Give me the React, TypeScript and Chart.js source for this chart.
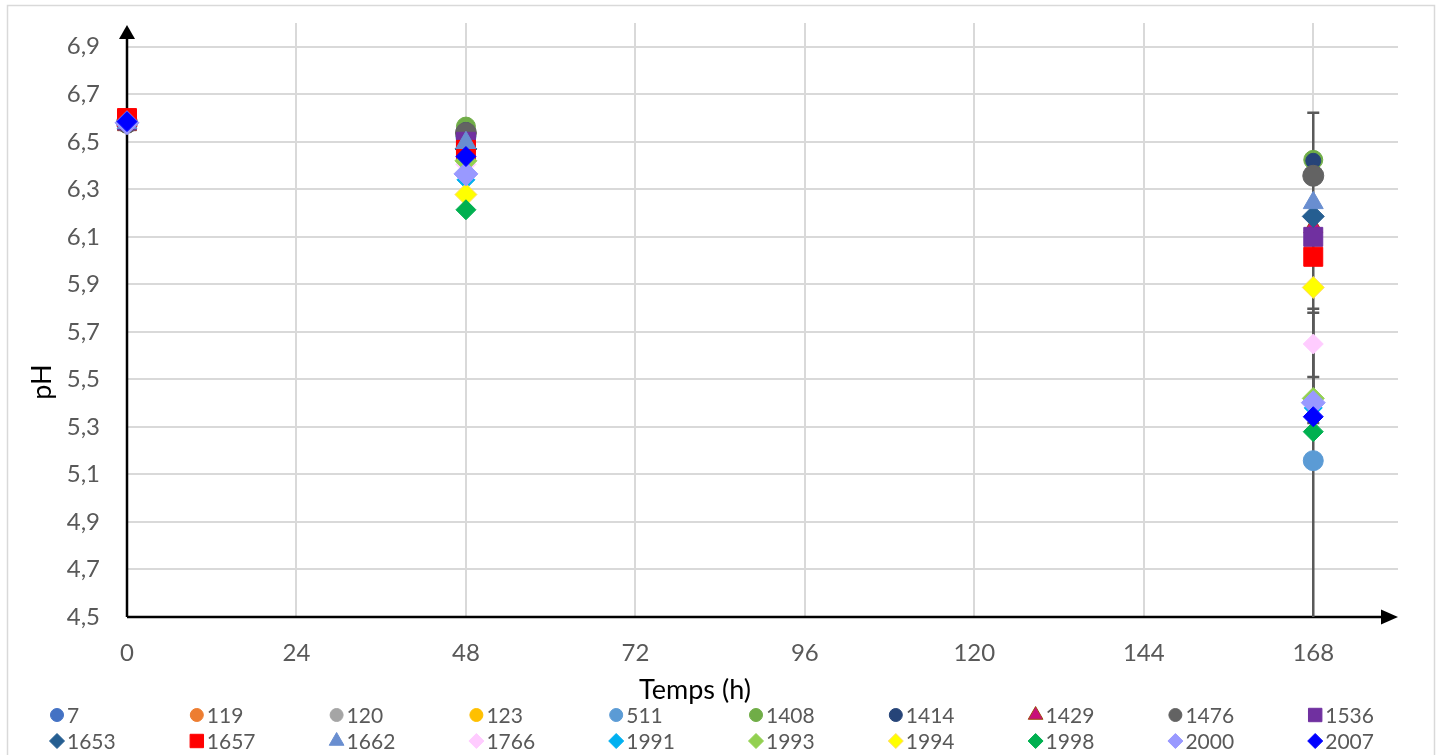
import React, { useEffect, useRef } from 'react';
import { Chart, registerables } from 'chart.js';
import { drawPoint } from 'chart.js/helpers';

Chart.register(...registerables);

// Sampling times (h) and axis ticks
const times = [0, 48, 168];
const xTicks = [0, 24, 48, 72, 96, 120, 144, 168];
const yTicks = [4.5, 4.7, 4.9, 5.1, 5.3, 5.5, 5.7, 5.9, 6.1, 6.3, 6.5, 6.7, 6.9];

// pH per strain at 0 h, 48 h and 168 h
const ph7 = [6.58, 6.54, 6.36];
const ph119 = [6.58, 6.54, 6.36];
const ph120 = [6.58, 6.54, 6.36];
const ph123 = [6.58, 6.54, 6.36];
const ph511 = [6.58, 6.52, 5.158];
const ph1408 = [6.58, 6.564, 6.424];
const ph1414 = [6.58, 6.55, 6.42];
const ph1429 = [6.57, 6.48, 6.14];
const ph1476 = [6.58, 6.537, 6.357];
const ph1536 = [6.59, 6.5, 6.1];
const ph1653 = [6.58, 6.47, 6.186];
const ph1657 = [6.6, 6.466, 6.016];
const ph1662 = [6.58, 6.496, 6.243];
const ph1766 = [6.58, 6.405, 5.649];
const ph1991 = [6.58, 6.34, 5.38];
const ph1993 = [6.58, 6.42, 5.42];
const ph1994 = [6.58, 6.278, 5.887];
const ph1998 = [6.58, 6.214, 5.28];
const ph2000 = [6.58, 6.365, 5.402];
const ph2007 = [6.585, 6.438, 5.343];

const strains = ['7', '119', '120', '123', '511', '1408', '1414', '1429', '1476', '1536',
  '1653', '1657', '1662', '1766', '1991', '1993', '1994', '1998', '2000', '2007'];
const phSeries = [ph7, ph119, ph120, ph123, ph511, ph1408, ph1414, ph1429, ph1476, ph1536,
  ph1653, ph1657, ph1662, ph1766, ph1991, ph1993, ph1994, ph1998, ph2000, ph2007];

// Error bars at 168 h (strain, plus, minus)
const errStrains = ['511', '1998', '2007', '2000'];
const errPlus = [1.464, 0.517, 0.437, 0.108];
const errMinus = [1.464, 0, 0, 0.085];

// Marker look per strain
type Mark = { shape: string; fill: string; stroke: string; r: number };
const marks: Mark[] = [
  { shape: 'circle', fill: '#4472C4', stroke: '#4472C4', r: 8 },
  { shape: 'circle', fill: '#ED7D31', stroke: '#ED7D31', r: 8 },
  { shape: 'circle', fill: '#A5A5A5', stroke: '#A5A5A5', r: 8 },
  { shape: 'circle', fill: '#FFC000', stroke: '#FFC000', r: 8 },
  { shape: 'circle', fill: '#5B9BD5', stroke: '#5B9BD5', r: 10 },
  { shape: 'circle', fill: '#70AD47', stroke: '#70AD47', r: 9.5 },
  { shape: 'circle', fill: '#264478', stroke: '#264478', r: 7.5 },
  { shape: 'triangle', fill: '#C8107A', stroke: '#9E480E', r: 11 },
  { shape: 'circle', fill: '#636363', stroke: '#636363', r: 10.5 },
  { shape: 'rect', fill: '#7030A0', stroke: '#7030A0', r: 13.4 },
  { shape: 'rectRot', fill: '#255E91', stroke: '#255E91', r: 11 },
  { shape: 'rect', fill: '#FF0000', stroke: '#FF0000', r: 13.4 },
  { shape: 'triangle', fill: '#698ED0', stroke: '#698ED0', r: 11.5 },
  { shape: 'rectRot', fill: '#FFCCFF', stroke: '#FFCCFF', r: 10 },
  { shape: 'rectRot', fill: '#00B0F0', stroke: '#00B0F0', r: 9 },
  { shape: 'rectRot', fill: '#92D050', stroke: '#92D050', r: 11 },
  { shape: 'rectRot', fill: '#FFFF00', stroke: '#FFD966', r: 11 },
  { shape: 'rectRot', fill: '#00B050', stroke: '#00B050', r: 10 },
  { shape: 'rectRot', fill: '#9999FF', stroke: '#9999FF', r: 12 },
  { shape: 'rectRot', fill: '#0000FF', stroke: '#0000FF', r: 10 },
];

const FONT = 'Lato, "Open Sans", sans-serif';
const TICK_COLOR = '#595959';
const GRID_COLOR = '#d9d9d9';

const framePlugin = {
  id: 'frame',
  beforeDraw(chart: any) {
    const ctx = chart.ctx;
    ctx.save();
    ctx.strokeStyle = GRID_COLOR;
    ctx.lineWidth = 1.5;
    ctx.strokeRect(7.5, 5.5, chart.width - 10, chart.height + 20);
    ctx.restore();
  },
};

// Black axis lines with arrow heads, plus error bars behind the markers
const axesPlugin = {
  id: 'axesArrows',
  beforeDatasetsDraw(chart: any) {
    const { ctx, chartArea: a, scales } = chart;
    ctx.save();
    ctx.strokeStyle = '#000';
    ctx.fillStyle = '#000';
    ctx.lineWidth = 2.5;
    ctx.beginPath();
    ctx.moveTo(a.left, a.bottom);
    ctx.lineTo(a.left, a.top + 14);
    ctx.moveTo(a.left, a.bottom);
    ctx.lineTo(a.right - 14, a.bottom);
    ctx.stroke();
    ctx.beginPath();
    ctx.moveTo(a.left, a.top + 2);
    ctx.lineTo(a.left - 8, a.top + 16);
    ctx.lineTo(a.left + 8, a.top + 16);
    ctx.closePath();
    ctx.fill();
    ctx.beginPath();
    ctx.moveTo(a.right, a.bottom);
    ctx.lineTo(a.right - 17, a.bottom - 7.5);
    ctx.lineTo(a.right - 17, a.bottom + 7.5);
    ctx.closePath();
    ctx.fill();

    // error bars
    ctx.strokeStyle = '#595959';
    ctx.lineWidth = 2.5;
    const xs = scales.x;
    const ys = scales.y;
    errStrains.forEach((s, i) => {
      const idx = strains.indexOf(s);
      const v = phSeries[idx][2];
      const px = xs.getPixelForValue(times[2]);
      const hi = ys.getPixelForValue(v + errPlus[i]);
      const lo = ys.getPixelForValue(v - errMinus[i]);
      const top = Math.max(hi, a.top);
      const bot = Math.min(lo, a.bottom);
      ctx.beginPath();
      ctx.moveTo(px, bot);
      ctx.lineTo(px, top);
      if (hi >= a.top && errPlus[i] > 0) {
        ctx.moveTo(px - 6, hi);
        ctx.lineTo(px + 6, hi);
      }
      if (lo <= a.bottom && errMinus[i] > 0) {
        ctx.moveTo(px - 6, lo);
        ctx.lineTo(px + 6, lo);
      }
      ctx.stroke();
    });
    ctx.restore();
  },
  afterDraw(chart: any) {
    const ctx = chart.ctx;
    ctx.save();
    ctx.fillStyle = '#000';
    ctx.font = `27px ${FONT}`;
    ctx.textAlign = 'center';
    ctx.textBaseline = 'middle';
    ctx.fillText('Temps (h)', 695, 690);
    ctx.translate(42, 382);
    ctx.rotate(-Math.PI / 2);
    ctx.fillText('pH', 0, 0);
    ctx.restore();
  },
};

// Grid legend: two rows of ten entries
const legendPlugin = {
  id: 'gridLegend',
  afterDraw(chart: any) {
    const ctx = chart.ctx;
    ctx.save();
    ctx.font = `21px ${FONT}`;
    ctx.textBaseline = 'middle';
    ctx.textAlign = 'left';
    strains.forEach((s, i) => {
      const col = i % 10;
      const row = Math.floor(i / 10);
      const x = 57 + col * 139.8;
      const y = 715 + row * 26;
      const m = marks[i];
      const r = m.shape === 'circle' ? 6.5 : m.shape === 'rect' ? 9.5 : m.shape === 'triangle' ? 8.5 : 7.5;
      ctx.fillStyle = m.fill;
      ctx.strokeStyle = m.stroke;
      drawPoint(ctx, { pointStyle: m.shape, radius: r, rotation: 0, borderWidth: 1 }, x, y);
      ctx.fillStyle = TICK_COLOR;
      ctx.fillText(s, x + 10, y + 1);
    });
    ctx.restore();
  },
};

export default function App() {
  const ref = useRef<HTMLCanvasElement | null>(null);

  useEffect(() => {
    if (!ref.current) return;
    // later strains are painted over earlier ones
    const datasets = strains.map((s, i) => ({
      label: s,
      order: strains.length - i,
      data: times.map((t, j) => ({ x: t, y: phSeries[i][j] })),
      pointStyle: marks[i].shape,
      pointRadius: marks[i].r,
      pointHoverRadius: marks[i].r,
      backgroundColor: marks[i].fill,
      borderColor: marks[i].stroke,
      pointBorderWidth: 1,
      showLine: false,
      clip: false as any,
    }));

    const chart = new Chart(ref.current, {
      type: 'scatter',
      data: { datasets },
      options: {
        responsive: false,
        animation: false,
        layout: { padding: { left: 0, top: 23, right: 39, bottom: 0 } },
        plugins: { legend: { display: false }, tooltip: { enabled: false }, title: { display: false } },
        scales: {
          x: {
            type: 'linear',
            min: 0,
            max: 180,
            afterBuildTicks: (sc: any) => { sc.ticks = xTicks.map((v) => ({ value: v })); },
            afterFit: (sc: any) => { sc.height = 138; sc.paddingLeft = 0; sc.paddingRight = 0; },
            ticks: { color: TICK_COLOR, font: { family: FONT, size: 24 }, padding: 22, maxRotation: 0 },
            grid: { color: (c: any) => (c.tick && c.tick.value === 0 ? 'rgba(0,0,0,0)' : GRID_COLOR), lineWidth: 2, drawTicks: false },
            border: { display: false },
          },
          y: {
            type: 'linear',
            min: 4.5,
            max: 7.0,
            afterBuildTicks: (sc: any) => { sc.ticks = yTicks.map((v) => ({ value: v })); },
            afterFit: (sc: any) => { sc.width = 127; sc.paddingTop = 0; sc.paddingBottom = 0; },
            ticks: {
              color: TICK_COLOR,
              font: { family: FONT, size: 24 },
              padding: 27,
              callback: (v: any) => Number(v).toFixed(1).replace('.', ','),
            },
            grid: { color: (c: any) => (c.tick && c.tick.value === 4.5 ? 'rgba(0,0,0,0)' : GRID_COLOR), lineWidth: 2, drawTicks: false },
            border: { display: false },
          },
        },
      },
      plugins: [framePlugin, axesPlugin, legendPlugin],
    } as any);

    return () => chart.destroy();
  }, []);

  return (
    <div style={{ position: 'absolute', left: 0, top: 0, width: 1437, height: 755, background: '#fff' }}>
      <canvas ref={ref} width={1437} height={755} style={{ width: 1437, height: 755, display: 'block' }} />
    </div>
  );
}
